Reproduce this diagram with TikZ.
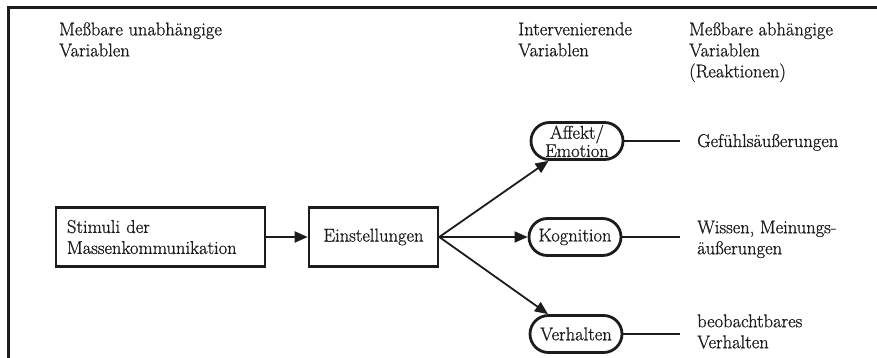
\documentclass[tikz,border=0pt]{standalone}
\usepackage{fontspec}
\setmainfont{Latin Modern Roman}[FakeBold=0.9]
\usetikzlibrary{arrows.meta,shapes.misc}
\definecolor{ink}{RGB}{28,28,30}
\begin{document}
\begin{tikzpicture}[x=1pt,y=-1pt,
  every node/.style={text=ink},
  font=\fontsize{18.5}{21}\selectfont,
  plainbox/.style={draw=ink, line width=2.6pt, minimum height=59pt, inner xsep=11pt, inner ysep=4pt},
  pill/.style={draw=ink, rounded rectangle, line width=2.8pt, minimum width=94pt, minimum height=37pt, inner sep=1pt, align=center},
  flow/.style={draw=ink, line width=1.8pt, -{Triangle[length=13pt,width=11pt]}},
  tie/.style={draw=ink, line width=1.6pt},
  caption/.style={anchor=north west, inner sep=0pt, align=left}
]
\useasboundingbox (0,0) rectangle (877,358);
\fill[white] (0,0) rectangle (877,358);

% frame on top and left
\draw[ink, line width=3pt] (8,358) -- (8,8) -- (877,8);

% column headings
\node[caption] (h1) at (59,22.2) {Meßbare unabhängige\\Variablen};
\node[caption] (h2) at (518,22.2) {Intervenierende\\Variablen};
\node[caption] (h3) at (689,22.2) {Meßbare abhängige\\Variablen\\(Reaktionen)};

% boxes
\node[plainbox, text width=187pt, align=left] (stim) at (160.5,237) {Stimuli der\\Massenkommunikation};
\node[plainbox, minimum width=129pt] (einst) at (373.5,237) {Einstellungen};

% intervening variables
\node[pill, font=\fontsize{18.5}{14}\selectfont] (aff) at (577,141) {Affekt/\\Emotion};
\node[pill] (kog) at (575,237) {Kognition};
\node[pill] (verh) at (576,334) {Verhalten};

% arrows
\draw[flow] (stim.east) -- (einst.west);
\draw[flow] (einst.east) -- (aff);
\draw[flow] (einst.east) -- (kog);
\draw[flow] (einst.east) -- (verh);

% reactions
\coordinate (r1) at (680,141);
\coordinate (r2) at (680,237);
\coordinate (r3) at (680,334);
\draw[tie] (aff.east) -- (r1);
\draw[tie] (kog.east) -- (r2);
\draw[tie] (verh.east) -- (r3);

\node[anchor=base west, inner sep=0pt] (g1) at (697,147) {Gefühlsäußerungen};
\node[caption] (g2) at (697,220.4) {Wissen, Meinungs-\\äußerungen};
\node[caption] (g3) at (697,314.2) {beobachtbares\\Verhalten};
\end{tikzpicture}
\end{document}
